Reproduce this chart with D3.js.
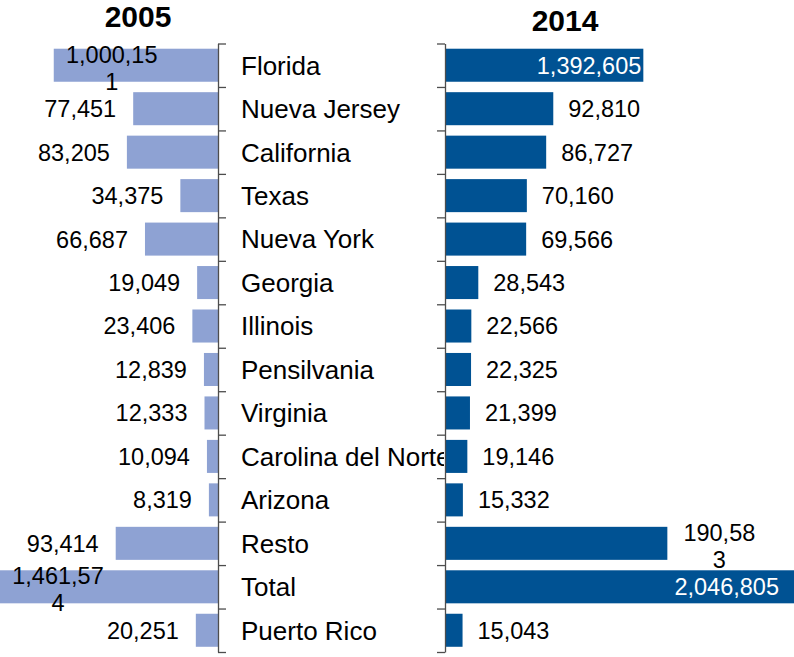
<!DOCTYPE html>
<html>
<head>
<meta charset="utf-8">
<script src="https://cdn.jsdelivr.net/npm/d3@7"></script>
<style>
  html, body { margin: 0; padding: 0; background: #fff; }
  svg { display: block; font-family: "Liberation Sans", Arial, sans-serif; }
</style>
</head>
<body>
<svg id="chart" width="794" height="657"></svg>
<script>
// ---- data ----
const categories = ["Florida", "Nueva Jersey", "California", "Texas", "Nueva York", "Georgia",
  "Illinois", "Pensilvania", "Virginia", "Carolina del Norte", "Arizona", "Resto", "Total", "Puerto Rico"];
const years = ["2005", "2014"];
const values2005 = [1000151, 77451, 83205, 34375, 66687, 19049, 23406, 12839, 12333, 10094, 8319, 93414, 1461574, 20251];
const values2014 = [1392605, 92810, 86727, 70160, 69566, 28543, 22566, 22325, 21399, 19146, 15332, 190583, 2046805, 15043];
// bar lengths as drawn (broken axis: very large values are shortened)
const drawn2005 = [150000, 77451, 83205, 34375, 66687, 19049, 23406, 12839, 12333, 10094, 8319, 93414, 210000, 20251];
const drawn2014 = [170000, 92810, 86727, 70160, 69566, 28543, 22566, 22325, 21399, 19146, 15332, 190583, 300000, 15043];
const wrapped2005 = ["Florida", "Total"];
const wrapped2014 = ["Resto"];
const inside2014 = ["Florida", "Total"];

(function () {
// ---- layout ----
const W = 794, H = 657;
const axisL = 218, axisR = 445;
const yTop = 43.5, yBottom = 652;
const colL = "#8EA2D3", colR = "#005293", axisCol = "#4d4d4d";
const fmt = d3.format(",");

const svg = d3.select("#chart");

const y = d3.scaleBand().domain(categories).range([yTop, yBottom]).paddingInner(0.24).paddingOuter(0.12);
const yEdge = d3.scaleLinear().domain([0, categories.length]).range([yTop, yBottom]);
const xL = d3.scaleLinear().domain([0, 200000]).range([axisL, axisL - 219]);
const xR = d3.scaleLinear().domain([0, 300000]).range([axisR, axisR + 350]);
const rowMid = c => y(c) + y.bandwidth() / 2;

const rows2005 = categories.map((c, i) => ({ c, v: values2005[i], d: drawn2005[i] }));
const rows2014 = categories.map((c, i) => ({ c, v: values2014[i], d: drawn2014[i] }));

// ---- left panel (2005) ----
const gL = svg.append("g");
gL.selectAll("rect").data(rows2005).join("rect")
  .attr("x", d => xL(d.d)).attr("width", d => axisL - xL(d.d))
  .attr("y", d => y(d.c)).attr("height", y.bandwidth())
  .attr("fill", colL);

gL.selectAll("text.val").data(rows2005).join("text")
  .attr("class", "val")
  .attr("font-size", 23.5).attr("fill", "#000")
  .each(function (d) {
    const t = d3.select(this);
    const s = fmt(d.v);
    if (wrapped2005.includes(d.c)) {
      const cx = Math.max(xL(d.d), 0) + 58;
      t.attr("text-anchor", "middle");
      t.append("tspan").attr("x", cx).attr("y", rowMid(d.c) - 11).attr("dy", "0.36em").text(s.slice(0, -1));
      t.append("tspan").attr("x", cx).attr("y", rowMid(d.c) + 16).attr("dy", "0.36em").text(s.slice(-1));
    } else {
      t.attr("text-anchor", "end").attr("x", xL(d.d) - 17).attr("y", rowMid(d.c)).attr("dy", "0.36em").text(s);
    }
  });

const axL = svg.append("g").attr("transform", `translate(${axisL},0)`)
  .call(d3.axisRight(yEdge).tickValues(d3.range(categories.length + 1)).tickFormat("").tickSize(8).tickSizeOuter(0));
axL.select(".domain").attr("stroke", axisCol).attr("stroke-width", 1.3);
axL.selectAll(".tick line").attr("stroke", axisCol).attr("stroke-width", 1.3);

// ---- category labels ----
svg.append("g").selectAll("text").data(categories).join("text")
  .attr("x", 241).attr("y", d => rowMid(d)).attr("dy", "0.36em")
  .attr("font-size", 26).attr("fill", "#000").text(d => d);

// ---- right panel (2014) ----
svg.append("rect").attr("x", axisR - 1).attr("y", 0).attr("width", W - axisR + 1).attr("height", H).attr("fill", "#fff");

const gR = svg.append("g");
gR.selectAll("rect").data(rows2014).join("rect")
  .attr("x", axisR).attr("width", d => xR(d.d) - axisR)
  .attr("y", d => y(d.c)).attr("height", y.bandwidth())
  .attr("fill", colR);

gR.selectAll("text.val").data(rows2014).join("text")
  .attr("class", "val")
  .attr("font-size", 23.5)
  .each(function (d) {
    const t = d3.select(this);
    const s = fmt(d.v);
    if (inside2014.includes(d.c)) {
      t.attr("text-anchor", "end").attr("fill", "#fff")
        .attr("x", Math.min(xR(d.d) - 2, W - 15)).attr("y", rowMid(d.c)).attr("dy", "0.36em").text(s);
    } else if (wrapped2014.includes(d.c)) {
      const cx = xR(d.d) + 52;
      t.attr("text-anchor", "middle").attr("fill", "#000");
      t.append("tspan").attr("x", cx).attr("y", rowMid(d.c) - 11).attr("dy", "0.36em").text(s.slice(0, -1));
      t.append("tspan").attr("x", cx).attr("y", rowMid(d.c) + 16).attr("dy", "0.36em").text(s.slice(-1));
    } else {
      t.attr("text-anchor", "start").attr("fill", "#000")
        .attr("x", xR(d.d) + 15).attr("y", rowMid(d.c)).attr("dy", "0.36em").text(s);
    }
  });

const axR = svg.append("g").attr("transform", `translate(${axisR},0)`)
  .call(d3.axisLeft(yEdge).tickValues(d3.range(categories.length + 1)).tickFormat("").tickSize(8).tickSizeOuter(0));
axR.select(".domain").attr("stroke", axisCol).attr("stroke-width", 1.3);
axR.selectAll(".tick line").attr("stroke", axisCol).attr("stroke-width", 1.3);

// ---- titles ----
svg.append("text").attr("x", 138).attr("y", 27).attr("text-anchor", "middle")
  .attr("font-size", 30).attr("font-weight", "bold").text(years[0]);
svg.append("text").attr("x", 565).attr("y", 31).attr("text-anchor", "middle")
  .attr("font-size", 30).attr("font-weight", "bold").text(years[1]);
})();
</script>
</body>
</html>
